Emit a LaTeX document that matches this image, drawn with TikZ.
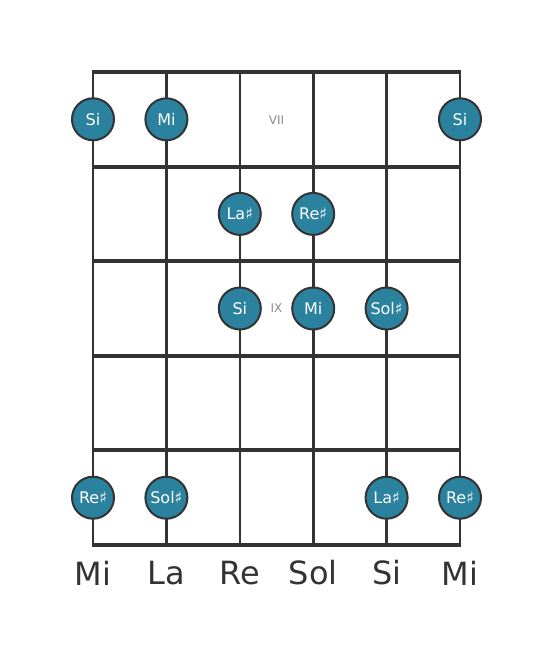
\documentclass[tikz,border=0pt]{standalone}
\usepackage{fontspec}
\setmainfont{DejaVu Sans}
\definecolor{dotfill}{RGB}{42,130,158}
\definecolor{ink}{RGB}{51,51,51}
\definecolor{fretlbl}{RGB}{140,140,140}
\begin{document}
\begin{tikzpicture}[x=1pt,y=-1pt,
  stringline/.style={draw=ink,line width=2.6pt},
  fretline/.style={draw=ink,line width=4pt,shorten <=-1.3pt,shorten >=-1.3pt},
  dot/.style={circle,fill=dotfill,draw=ink,line width=2pt,minimum size=42pt,inner sep=0pt,text=white,font=\fontsize{16}{16}\selectfont},
  fretnum/.style={text=fretlbl,font=\fontsize{12}{12}\selectfont},
  strname/.style={text=ink,font=\fontsize{32}{32}\selectfont}]
\useasboundingbox (0,0) rectangle (553,656);
% string positions
\foreach \i/\x in {1/93,2/166.4,3/239.8,4/313.2,5/386.6,6/460}{
  \coordinate (s\i t) at (\x,72);
  \coordinate (s\i b) at (\x,545);
}
\foreach \j/\y in {0/72,1/166.6,2/261.2,3/355.8,4/450.4,5/545}{
  \coordinate (f\j l) at (93,\y);
  \coordinate (f\j r) at (460,\y);
}
\foreach \i in {1,...,6}{\draw[stringline] (s\i t) -- (s\i b);}
\foreach \j in {0,...,5}{\draw[fretline] (f\j l) -- (f\j r);}
% fret numbers
\node[fretnum] (vii) at (276.5,120) {VII};
\node[fretnum] (ix) at (276.5,308.5) {IX};
% dots
\node[dot] (d11) at (93,119.3) {Si};
\node[dot] (d12) at (166.4,119.3) {Mi};
\node[dot] (d16) at (460,119.3) {Si};
\node[dot] (d23) at (239.8,213.9) {La♯};
\node[dot] (d24) at (313.2,213.9) {Re♯};
\node[dot] (d33) at (239.8,308.5) {Si};
\node[dot] (d34) at (313.2,308.5) {Mi};
\node[dot] (d35) at (386.6,308.5) {Sol♯};
\node[dot] (d51) at (93,497.7) {Re♯};
\node[dot] (d52) at (166.4,497.7) {Sol♯};
\node[dot] (d55) at (386.6,497.7) {La♯};
\node[dot] (d56) at (460,497.7) {Re♯};
% string names
\node[strname] (n1) at (93,573) {Mi};
\node[strname] (n2) at (166.4,573) {La};
\node[strname] (n3) at (239.8,573) {Re};
\node[strname] (n4) at (313.2,573) {Sol};
\node[strname] (n5) at (386.6,573) {Si};
\node[strname] (n6) at (460,573) {Mi};
\end{tikzpicture}
\end{document}
